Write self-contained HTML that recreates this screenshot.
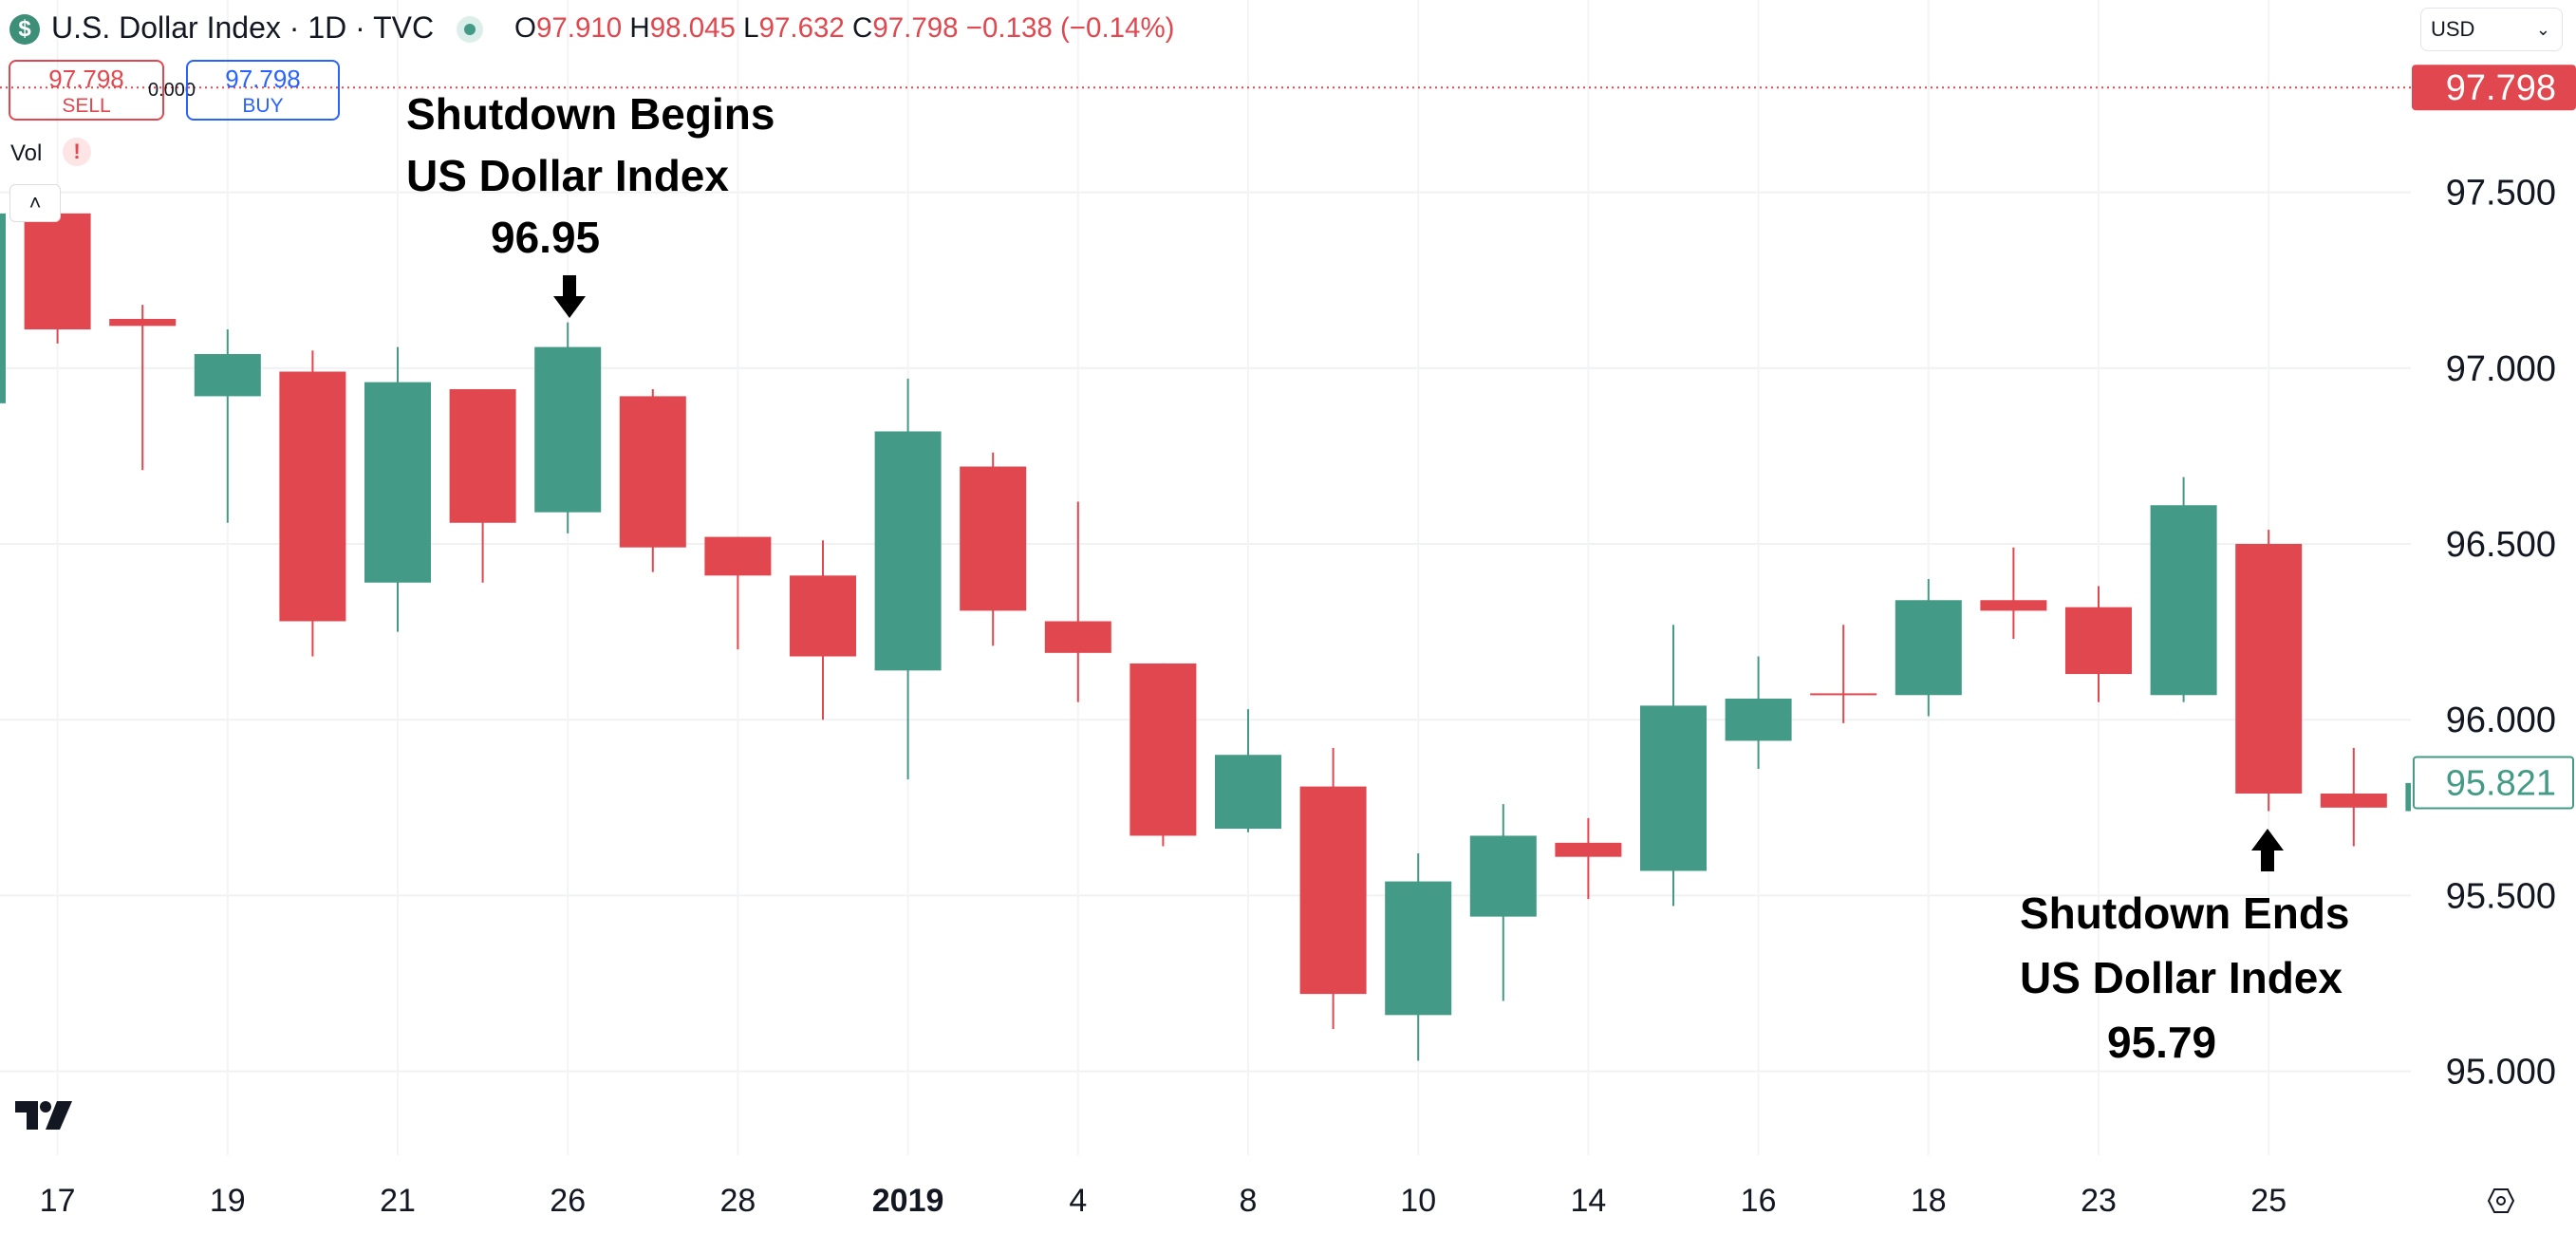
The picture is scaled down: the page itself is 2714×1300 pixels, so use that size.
<!DOCTYPE html>
<html><head><meta charset="utf-8"><style>
html,body{margin:0;padding:0;background:#fff;}
body{width:2714px;height:1300px;overflow:hidden;position:relative;font-family:"Liberation Sans",sans-serif;}
.abs{position:absolute;}
</style></head><body>
<svg id="chart" width="2714" height="1300" style="position:absolute;left:0;top:0" xmlns="http://www.w3.org/2000/svg">
<defs><clipPath id="plotclip"><rect x="0" y="0" width="2540" height="1300"/></clipPath></defs>
<g id="grid"></g>
<g id="candles" clip-path="url(#plotclip)"></g>
<g id="axis"></g>
<g id="xaxis"></g>
</svg>

<div class="abs" style="left:10px;top:15px;width:32px;height:32px;border-radius:50%;background:#3d8f78;color:#fff;font-weight:bold;font-size:24px;text-align:center;line-height:32px;">$</div>
<div class="abs" style="left:54px;top:11px;font-size:32px;color:#131722;">U.S. Dollar Index · 1D · TVC</div>
<div class="abs" style="left:481px;top:17px;width:28px;height:28px;border-radius:50%;background:#dceee9;"><div style="margin:8px;width:12px;height:12px;border-radius:50%;background:#439a86"></div></div>
<div class="abs" style="left:542px;top:13px;font-size:29.5px;color:#e1474e;white-space:nowrap;"><span style="color:#131722">O</span>97.910 <span style="color:#131722">H</span>98.045 <span style="color:#131722">L</span>97.632 <span style="color:#131722">C</span>97.798 −0.138 (−0.14%)</div>

<div class="abs" style="left:9px;top:63px;width:164px;height:64px;border:2px solid #e1474e;border-radius:8px;color:#e1474e;text-align:center;box-sizing:border-box;"><div style="font-size:26px;margin-top:3px">97.798</div><div style="font-size:21px;margin-top:1px">SELL</div></div>
<div class="abs" style="left:156px;top:84px;font-size:20px;color:#131722;">0.000</div>
<div class="abs" style="left:196px;top:63px;width:162px;height:64px;border:2px solid #2962ff;border-radius:8px;color:#2962ff;text-align:center;box-sizing:border-box;"><div style="font-size:26px;margin-top:3px">97.798</div><div style="font-size:21px;margin-top:1px">BUY</div></div>
<div class="abs" style="left:11px;top:148px;font-size:24px;color:#131722;">Vol</div>
<div class="abs" style="left:66px;top:145px;width:30px;height:30px;border-radius:50%;background:#fde4e5;color:#e1474e;font-weight:bold;font-size:22px;text-align:center;line-height:30px;">!</div>
<div class="abs" style="left:10px;top:194px;width:52px;height:38px;border:1px solid #ddd;border-radius:6px;background:#fff;text-align:center;font-size:22px;line-height:38px;color:#131722;">˄</div>

<div class="abs" style="left:2550px;top:8px;width:150px;height:46px;border:1px solid #e0e3eb;border-radius:8px;box-sizing:border-box;font-size:22px;color:#131722;line-height:44px;padding-left:10px;">USD<span style="position:absolute;right:12px;top:0;font-size:18px">⌄</span></div>

<div class="abs" style="left:428px;top:88px;font-weight:bold;font-size:46px;color:#000;line-height:65px;">
<div>Shutdown Begins</div><div>US Dollar Index</div><div style="padding-left:89px">96.95</div></div>
<div class="abs" style="left:2128px;top:928px;font-weight:bold;font-size:46px;color:#000;line-height:68px;">
<div>Shutdown Ends</div><div>US Dollar Index</div><div style="padding-left:92px">95.79</div></div>

<svg class="abs" style="left:582px;top:290px" width="36" height="46"><path d="M11 0H25V22H35L18 45L1 22H11Z" fill="#000"/></svg>
<svg class="abs" style="left:2371px;top:873px" width="36" height="46"><path d="M18 0L35 23H25V45H11V23H1Z" fill="#000"/></svg>

<svg class="abs" style="left:16px;top:1160px" width="62" height="32"><path d="M0 0H24V30H12V12H0Z" fill="#131722"/><circle cx="32" cy="6" r="6" fill="#131722"/><path d="M44 0H60L47 30H32Z" fill="#131722"/></svg>
<svg class="abs" style="left:2620px;top:1250px" width="30" height="30"><path d="M8 3H22L28 15L22 27H8L2 15Z" fill="none" stroke="#131722" stroke-width="2"/><circle cx="15" cy="15" r="4" fill="none" stroke="#131722" stroke-width="2"/></svg>

<script>
const dates = ["14","17","18","19","20","21","24","26","27","28","31","2","3","4","7","8","9","10","11","14","15","16","17","18","22","23","24","25","28","29"];
const opens  = [96.90,97.44,97.14,96.92,96.99,96.39,96.94,96.59,96.92,96.52,96.41,96.14,96.72,96.28,96.16,95.69,95.81,95.16,95.44,95.65,95.57,95.94,96.075,96.07,96.34,96.32,96.07,96.50,95.79,95.74];
const highs  = [97.46,97.46,97.18,97.11,97.05,97.06,96.94,97.13,96.94,96.52,96.51,96.97,96.76,96.62,96.16,96.03,95.92,95.62,95.76,95.72,96.27,96.18,96.27,96.40,96.49,96.38,96.69,96.54,95.92,95.85];
const lows   = [96.88,97.07,96.71,96.56,96.18,96.25,96.39,96.53,96.42,96.20,96.00,95.83,96.21,96.05,95.64,95.68,95.12,95.03,95.20,95.49,95.47,95.86,95.99,96.01,96.23,96.05,96.05,95.74,95.64,95.70];
const closes = [97.44,97.11,97.12,97.04,96.28,96.96,96.56,97.06,96.49,96.41,96.18,96.82,96.31,96.19,95.67,95.90,95.22,95.54,95.67,95.61,96.04,96.06,96.07,96.34,96.31,96.13,96.61,95.79,95.75,95.82];
const priceTicks = [97.5,97.0,96.5,96.0,95.5,95.0];
const timeLabels = ["17","19","21","26","28","2019","4","8","10","14","16","18","23","25"];
const timeLabelIdx = [1,3,5,7,9,11,13,15,17,19,21,23,25,27];
const lastPrice = 97.798, currentClose = 95.821;

const NS="http://www.w3.org/2000/svg";
const yScale = v => 1128.6 - (v-95)*370.4;
const xScale = i => 60.6 + (i-1)*89.6;
const RED="#e1474e", GREEN="#439a86";
function mk(parent,tag,attrs){const e=document.createElementNS(NS,tag);for(const k in attrs)e.setAttribute(k,attrs[k]);parent.appendChild(e);return e;}
const grid=document.getElementById('grid'), cg=document.getElementById('candles'), ax=document.getElementById('axis'), xa=document.getElementById('xaxis');

priceTicks.forEach(p=>{
  const l=mk(grid,'line',{x1:0,x2:2540,y1:yScale(p),y2:yScale(p),stroke:'#f0f1f3','stroke-width':2});
  
  
  const t=mk(ax,'text',{x:2693,y:yScale(p)+13,'text-anchor':'end','font-size':38,fill:'#131722','font-family':'Liberation Sans, sans-serif'});
  t.textContent=p.toFixed(3);
  
  
});
timeLabels.forEach((s,k)=>{
  const x=xScale(timeLabelIdx[k]);
  const l=mk(grid,'line',{x1:x,x2:x,y1:0,y2:1217,stroke:'#f3f4f6','stroke-width':2});
  
  
  const t=mk(xa,'text',{x:x,y:1276,'text-anchor':'middle','font-size':34,fill:'#131722','font-weight':s==='2019'?'bold':'normal','font-family':'Liberation Sans, sans-serif'});
  t.textContent=s;
  
  
});

const dl=mk(grid,'line',{x1:0,x2:2540,y1:yScale(lastPrice),y2:yScale(lastPrice),stroke:RED,'stroke-width':2,'stroke-dasharray':'2 4'});



opens.forEach((o,i)=>{
  const c=closes[i], col=c>=o?GREEN:RED, x=xScale(i);
  const g=mk(cg,'g',{});
  
  
  mk(g,'line',{x1:x,x2:x,y1:yScale(highs[i]),y2:yScale(lows[i]),stroke:col,'stroke-width':2});
  const top=yScale(Math.max(o,c)), bot=yScale(Math.min(o,c));
  mk(g,'rect',{x:x-35,y:top,width:70,height:Math.max(2,bot-top),fill:col});
});

const lg=mk(ax,'g',{});


mk(lg,'rect',{x:2541,y:yScale(lastPrice)-24,width:173,height:48,rx:4,fill:RED});
const lt=mk(lg,'text',{x:2693,y:yScale(lastPrice)+13,'text-anchor':'end','font-size':38,fill:'#fff','font-family':'Liberation Sans, sans-serif'});
lt.textContent=lastPrice.toFixed(3);
const cgp=mk(ax,'g',{});


mk(cgp,'rect',{x:2543,y:yScale(currentClose)-27,width:168,height:54,rx:3,fill:'#fff',stroke:GREEN,'stroke-width':2});
const ct=mk(cgp,'text',{x:2693,y:yScale(currentClose)+13,'text-anchor':'end','font-size':38,fill:GREEN,'font-family':'Liberation Sans, sans-serif'});
ct.textContent=currentClose.toFixed(3);
</script>
</body></html>
